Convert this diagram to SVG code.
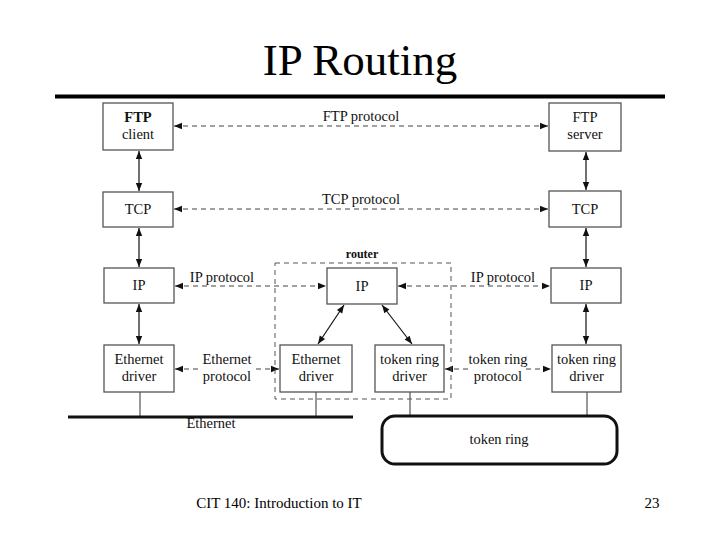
<svg xmlns="http://www.w3.org/2000/svg" width="720" height="540" viewBox="0 0 720 540">
<style>
  .box{fill:#fff;stroke:#555;stroke-width:1.3}
  .t{font-family:"Liberation Serif","Times New Roman",serif;font-size:14.5px;fill:#111;text-anchor:middle}
  .b{font-weight:bold}
  .v{stroke:#111;stroke-width:1.2;fill:none}
  .d{stroke:#444;stroke-width:1.1;stroke-dasharray:5,4;fill:none}
  .s{stroke:#333;stroke-width:1;fill:none}
</style>
<defs>
  <marker id="ah" viewBox="0 0 10 10" refX="10" refY="5" markerWidth="11" markerHeight="8" markerUnits="userSpaceOnUse" orient="auto-start-reverse">
    <path d="M0,1 L10,5 L0,9 Z" fill="#111"/>
  </marker>
</defs>
<rect width="720" height="540" fill="#fff"/>
<text x="360" y="75" font-family="Liberation Serif,'Times New Roman',serif" font-size="45" text-anchor="middle" fill="#000">IP Routing</text>
<rect x="55" y="94.5" width="610" height="4" fill="#000"/>

<g id="connectors">
  <line class="d" x1="174" y1="126" x2="548" y2="126" marker-start="url(#ah)" marker-end="url(#ah)"/>
  <line class="d" x1="174" y1="209" x2="548" y2="209" marker-start="url(#ah)" marker-end="url(#ah)"/>
  <line class="d" x1="175" y1="286" x2="326" y2="286" marker-start="url(#ah)" marker-end="url(#ah)"/>
  <line class="d" x1="398" y1="286" x2="550" y2="286" marker-start="url(#ah)" marker-end="url(#ah)"/>
  <line class="d" x1="175" y1="369" x2="279" y2="369" marker-start="url(#ah)" marker-end="url(#ah)"/>
  <line class="d" x1="445" y1="369" x2="551" y2="369" marker-start="url(#ah)" marker-end="url(#ah)"/>
  <line class="v" x1="139" y1="151" x2="139" y2="191" marker-start="url(#ah)" marker-end="url(#ah)"/>
  <line class="v" x1="139" y1="228" x2="139" y2="267" marker-start="url(#ah)" marker-end="url(#ah)"/>
  <line class="v" x1="139" y1="304" x2="139" y2="344" marker-start="url(#ah)" marker-end="url(#ah)"/>
  <line class="v" x1="586" y1="152" x2="586" y2="190" marker-start="url(#ah)" marker-end="url(#ah)"/>
  <line class="v" x1="586" y1="228" x2="586" y2="267" marker-start="url(#ah)" marker-end="url(#ah)"/>
  <line class="v" x1="586" y1="304" x2="586" y2="344" marker-start="url(#ah)" marker-end="url(#ah)"/>
  <line class="v" x1="344" y1="305" x2="318" y2="344" marker-start="url(#ah)" marker-end="url(#ah)"/>
  <line class="v" x1="382" y1="305" x2="412" y2="344" marker-start="url(#ah)" marker-end="url(#ah)"/>
  <line class="s" x1="140" y1="392" x2="140" y2="416"/>
  <line class="s" x1="316" y1="392" x2="316" y2="416"/>
  <line class="s" x1="410" y1="392" x2="410" y2="416"/>
  <line class="s" x1="587" y1="392" x2="587" y2="416"/>
  <line x1="68" y1="417" x2="353" y2="417" stroke="#111" stroke-width="3"/>
</g>

<g id="labels">
  <text class="t" x="361" y="121">FTP protocol</text>
  <text class="t" x="361" y="204">TCP protocol</text>
  <text class="t" x="222" y="282">IP protocol</text>
  <text class="t" x="503" y="282">IP protocol</text>
  <rect x="201" y="352" width="52" height="32" fill="#fff"/>
  <text class="t" x="227" y="364">Ethernet</text>
  <text class="t" x="227" y="381">protocol</text>
  <rect x="470" y="352" width="56" height="32" fill="#fff"/>
  <text class="t" x="498" y="364">token ring</text>
  <text class="t" x="498" y="381">protocol</text>
  <text class="t" x="211" y="428">Ethernet</text>
</g>

<g id="router">
  <rect x="275" y="263" width="176" height="136" fill="none" stroke="#555" stroke-width="1" stroke-dasharray="5,4"/>
  <text class="t b" x="362" y="258" style="font-size:12px">router</text>
</g>

<g id="ftp-client"><rect class="box" x="103" y="103" width="70" height="47"/><text class="t b" x="138" y="122">FTP</text><text class="t" x="138" y="139">client</text></g>
<g id="tcp-left"><rect class="box" x="103" y="192" width="70" height="35"/><text class="t" x="138" y="214">TCP</text></g>
<g id="ip-left"><rect class="box" x="104" y="268" width="70" height="35"/><text class="t" x="139" y="290">IP</text></g>
<g id="eth-left"><rect class="box" x="104" y="345" width="70" height="47"/><text class="t" x="139" y="364">Ethernet</text><text class="t" x="139" y="381">driver</text></g>

<g id="ftp-server"><rect class="box" x="549" y="103" width="72" height="48"/><text class="t" x="585" y="122">FTP</text><text class="t" x="585" y="139">server</text></g>
<g id="tcp-right"><rect class="box" x="549" y="191" width="72" height="36"/><text class="t" x="585" y="214">TCP</text></g>
<g id="ip-right"><rect class="box" x="551" y="268" width="70" height="35"/><text class="t" x="586" y="290">IP</text></g>
<g id="tr-right"><rect class="box" x="552" y="345" width="69" height="47"/><text class="t" x="586.5" y="364">token ring</text><text class="t" x="586.5" y="381">driver</text></g>

<g id="ip-router"><rect class="box" x="327" y="268" width="70" height="36"/><text class="t" x="362" y="291">IP</text></g>
<g id="eth-router"><rect class="box" x="280" y="345" width="72" height="47"/><text class="t" x="316" y="364">Ethernet</text><text class="t" x="316" y="381">driver</text></g>
<g id="tr-router"><rect class="box" x="375" y="345" width="69" height="47"/><text class="t" x="409.5" y="364">token ring</text><text class="t" x="409.5" y="381">driver</text></g>

<g id="token-ring"><rect x="382" y="416" width="235" height="48" rx="13" fill="#fff" stroke="#111" stroke-width="3"/><text class="t" x="499" y="444">token ring</text></g>

<text x="279" y="508" font-family="Liberation Serif,'Times New Roman',serif" font-size="15" text-anchor="middle" fill="#000">CIT 140: Introduction to IT</text>
<text x="652" y="508" font-family="Liberation Serif,'Times New Roman',serif" font-size="15" text-anchor="middle" fill="#000">23</text>
</svg>
